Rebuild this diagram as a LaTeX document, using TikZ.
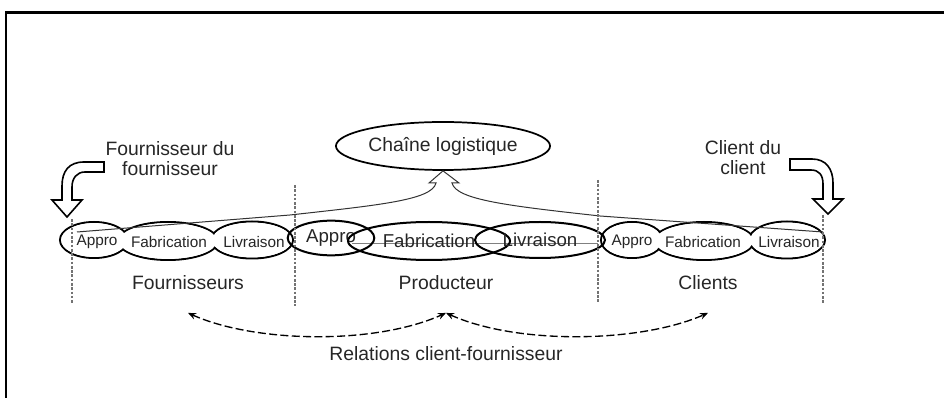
\documentclass[tikz,border=0pt]{standalone}
\usepackage{fontspec}
\setmainfont{Liberation Sans}
\usetikzlibrary{arrows.meta,shapes.geometric}

\tikzset{every picture/.style={line width=0.75pt},
  lbl/.style={inner sep=0.75pt, align=center, text=black!85, font=\fontsize{14.5}{15}\selectfont},
  smlbl/.style={inner sep=0pt, text=black!85, font=\fontsize{11.5}{13}\selectfont},
  prodell/.style={ellipse, draw, line width=1.5pt, inner sep=0pt, text=black!85, font=\fontsize{14}{16}\selectfont},
  dotline/.style={draw=black!55, line width=1pt, dash pattern={on 2pt off 1.2pt}},
  relarrow/.style={line width=1pt, dash pattern={on 6pt off 2.5pt}, {Stealth[length=6pt,width=5pt]}-{Stealth[length=6pt,width=5pt]}},
  bentarrow/.style={line width=1.2pt, line join=miter}}

\begin{document}
\begin{tikzpicture}[x=0.75pt,y=0.75pt,yscale=-1,xscale=1]
\path [use as bounding box] (0,0) rectangle (944,398);

%Shape: Frame
\draw [line width=2pt] (6,398) -- (6,12.5) -- (944,12.5) ;

%Shape: Ellipse [chaine logistique]
\draw (443,146) node [ellipse, draw, line width=1.3pt, minimum width=134pt, minimum height=36pt, lbl] (chaine) {Chaîne logistique};

%Shape: Ellipses, outer groups (outline of the union only)
\foreach \cx/\cy/\rx/\ry in {94/240/34/18, 168/241/50/19, 252/240/41/18.5, 632/240/31/18, 704/241/50/19, 787/240/38/18.5}
  \draw [line width=1.5pt] (\cx,\cy) ellipse [x radius=\rx, y radius=\ry] ;
\foreach \cx/\cy/\rx/\ry in {94/240/34/18, 168/241/50/19, 252/240/41/18.5, 632/240/31/18, 704/241/50/19, 787/240/38/18.5}
  \fill [white] (\cx,\cy) ellipse [x radius=\rx-1.1, y radius=\ry-1.1] ;

% Text Node
\draw (97,242) node [smlbl] (fappro) {Appro};
% Text Node
\draw (169,242) node [smlbl] (ffab) {Fabrication};
% Text Node
\draw (254,242) node [smlbl] (fliv) {Livraison};
% Text Node
\draw (632,242) node [smlbl] (cappro) {Appro};
% Text Node
\draw (703,242) node [smlbl] (cfab) {Fabrication};
% Text Node
\draw (789,242) node [smlbl] (cliv) {Livraison};

%Shape: Line under the producer
\draw [black!50, line width=0.6pt] (352,243) -- (598,243) ;

%Shape: Ellipses, producer
\draw (331,238) node [prodell, minimum width=65pt, minimum height=26pt] (pappro) {Appro};
\draw (429,241) node [prodell, minimum width=121.5pt, minimum height=28.5pt] (pfab) {Fabrication};
\draw (540,240) node [prodell, minimum width=97.5pt, minimum height=27pt] (pliv) {Livraison};

%Shape: Converging arrow up to the chain
\coordinate (lstart) at (77,232);
\coordinate (rend) at (823,232);
\draw [line width=0.75pt, black!80] (lstart) -- (290,215) .. controls (380,205) and (432,200) .. (436,183) -- (429,183) -- (chaine.south) -- (459,183) -- (452,183) .. controls (456,200) and (510,206) .. (600,216) -- (rend) ;

%Shape: Dotted separators
\foreach \vx/\ya/\yb in {72/219/303, 295/185/306, 598/180/302, 823/215/303}
  \draw [dotline] (\vx,\ya) -- (\vx,\yb) ;

%Shape: Bent arrow, left
\draw [bentarrow] (104,162) -- (84,162) .. controls (69,162) and (62,171) .. (62,186) -- (62,200) -- (52,200) -- (67,217) -- (82,200) -- (72,200) -- (72,187) .. controls (72,178) and (77,172) .. (85,172) -- (104,172) -- cycle ;
%Shape: Bent arrow, right
\draw [bentarrow] (790,159) -- (812,159) .. controls (826,159) and (833,169) .. (833,183) -- (833,199) -- (843,199) -- (828,214) -- (813,199) -- (823,199) -- (823,184) .. controls (823,175) and (819,170) .. (811,170) -- (790,170) -- cycle ;

% Text Node
\draw (170,159) node [lbl] (fdf) {Fournisseur du\\fournisseur};
% Text Node
\draw (743,158) node [lbl] (cdc) {Client du\\client};
% Text Node
\draw (188,283) node [lbl] (fourn) {Fournisseurs};
% Text Node
\draw (446,283) node [lbl] (prod) {Producteur};
% Text Node
\draw (708,283) node [lbl] (cli) {Clients};
% Text Node
\draw (446,354) node [lbl] (rel) {Relations client-fournisseur};

%Shape: Customer-supplier relations
\draw [relarrow] ([yshift=16pt]fourn.south) .. controls (255,343) and (375,345) .. ([yshift=16pt]prod.south) ;
\draw [relarrow] ([yshift=16pt]prod.south) .. controls (517,345) and (640,343) .. ([yshift=16pt]cli.south) ;

\end{tikzpicture}
\end{document}
